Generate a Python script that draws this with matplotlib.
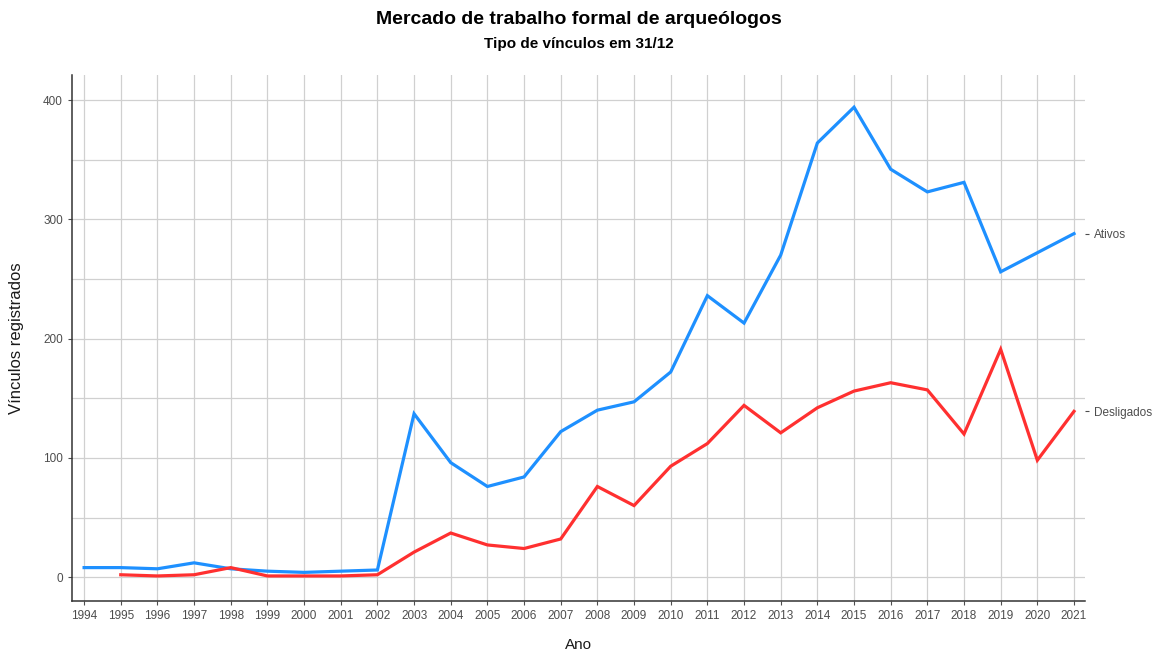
import matplotlib
matplotlib.use("Agg")
from matplotlib import pyplot as plt
from matplotlib.ticker import MultipleLocator

anos = list(range(1994, 2022))
ativos = [8, 8, 7, 12, 7, 5, 4, 5, 6, 137, 96, 76, 84, 122, 140, 147, 172,
          236, 213, 270, 364, 394, 342, 323, 331, 256, 272, 288]
anos_deslig = list(range(1995, 2022))
desligados = [2, 1, 2, 8, 1, 1, 1, 2, 21, 37, 27, 24, 32, 76, 60, 93, 112,
              144, 121, 142, 156, 163, 157, 120, 191, 98, 139]

cor_ativos = '#1E90FF'
cor_deslig = '#FF3030'

plt.rcParams['font.family'] = ['Liberation Sans', 'DejaVu Sans']

fig = plt.figure(figsize=(11.57, 6.52), dpi=100)
ax = fig.add_axes([72/1157, 1-601/652, (1085-72)/1157, (601-75)/652])

ax.plot(anos, ativos, color=cor_ativos, lw=2.3, solid_joinstyle='miter')
ax.plot(anos_deslig, desligados, color=cor_deslig, lw=2.3, solid_joinstyle='miter')

ax.set_xlim(1993.67, 2021.3)
ax.set_ylim(-20, 421)
ax.set_xticks(anos)
ax.yaxis.set_major_locator(MultipleLocator(100))
ax.yaxis.set_minor_locator(MultipleLocator(50))
ax.grid(True, which='both', color='#d0d0d0', lw=0.9)
ax.set_axisbelow(True)
for s in ['top', 'right']:
    ax.spines[s].set_visible(False)
for s in ['left', 'bottom']:
    ax.spines[s].set_color('#333333')
    ax.spines[s].set_linewidth(1.1)
ax.tick_params(axis='both', which='major', labelsize=8.5, colors='#4d4d4d',
               length=3, width=0.8)
ax.tick_params(axis='both', which='minor', length=0)
ax.set_xlabel('Ano', fontsize=11, color='#1a1a1a', labelpad=14)
ax.xaxis.set_label_coords(0.5, -(645 - 601) / (601 - 75), transform=ax.transAxes)
ax.xaxis.label.set_va('center')
ax.set_ylabel('Vínculos registrados', fontsize=12, color='#1a1a1a', labelpad=14)

ax2 = ax.twinx()
ax2.set_ylim(ax.get_ylim())
ax2.set_yticks([ativos[-1], desligados[-1]])
ax2.set_yticklabels(['Ativos', 'Desligados'])
ax2.tick_params(axis='y', labelsize=8.5, colors='#4d4d4d', length=3, width=0.8)
for s in ax2.spines.values():
    s.set_visible(False)

fig.text(0.5, 1-19/652, 'Mercado de trabalho formal de arqueólogos',
         ha='center', va='center', fontsize=14, fontweight='bold')
fig.text(0.5, 1-44/652, 'Tipo de vínculos em 31/12',
         ha='center', va='center', fontsize=11, fontweight='bold')

fig.savefig('out.png', dpi=100)
